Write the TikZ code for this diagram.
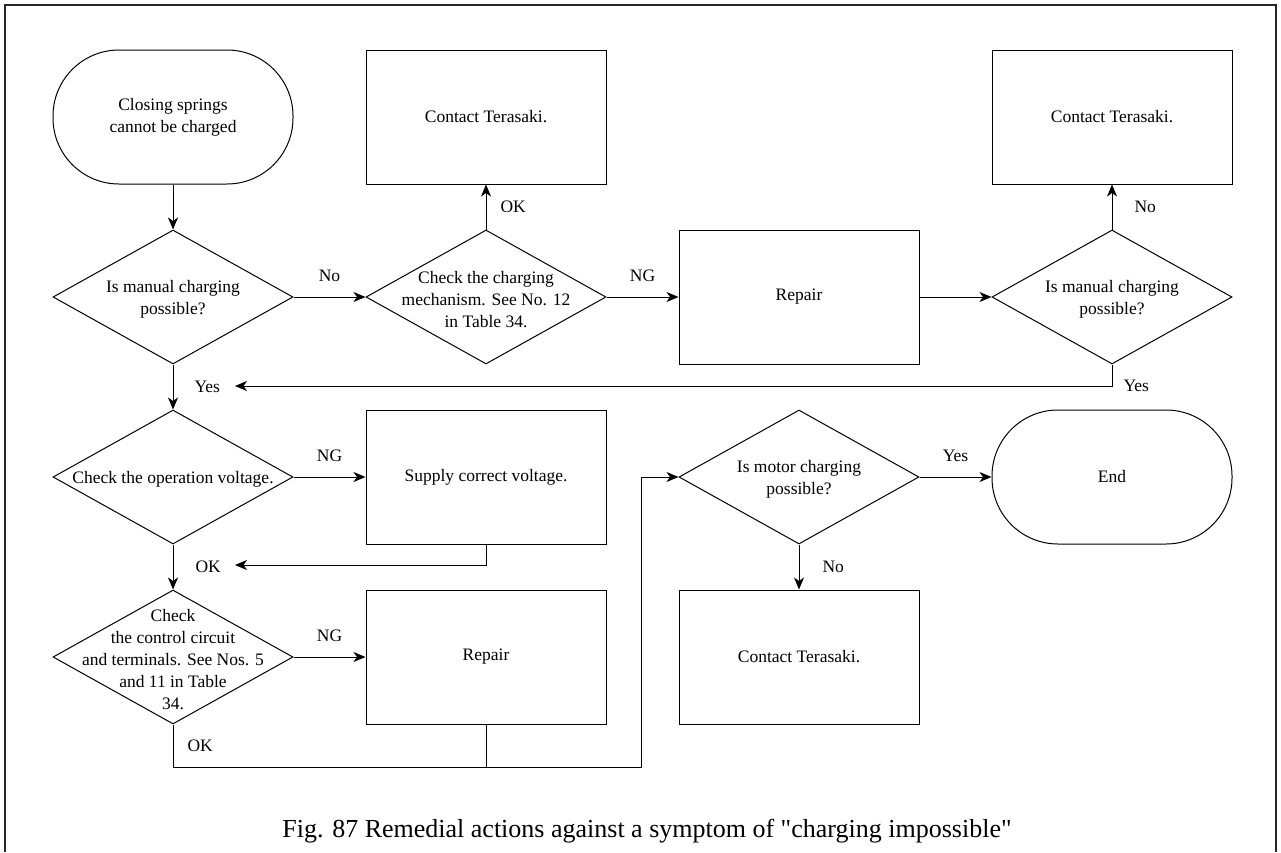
\documentclass[tikz,border=0pt]{standalone}
\usepackage{fontspec}
\setmainfont{Liberation Serif}
\usetikzlibrary{shapes.geometric, arrows.meta, positioning}

\newcommand{\dtext}[1]{\smash{\raisebox{-7pt}{\parbox[c]{230pt}{\centering #1}}}}

\begin{document}
\begin{tikzpicture}[
    x=1pt, y=-1pt,
    node distance=45pt and 72pt,
    every node/.style={font=\fontsize{17.5pt}{22pt}\selectfont},
    box/.style={draw, rectangle, minimum width=240pt, minimum height=134pt, align=center, inner sep=0pt, line width=1pt},
    terminal/.style={box, rounded corners=66pt},
    decision/.style={draw, diamond, shape aspect=1.8, minimum width=240pt, minimum height=134pt, inner sep=0pt, line width=1pt},
    arrow/.style={-{Stealth[length=12pt,width=10pt,inset=3.5pt]}, line width=1pt},
    lbl/.style={inner sep=2pt}
]

\useasboundingbox (0,0) rectangle (1281,852);
\draw [line width=1.5pt, black!85] (5,852) -- (5,5) -- (1276,5) -- (1276,852);

\node (start) [terminal] at (173,117) {Closing springs\\cannot be charged};
\node (q1) [decision, below=of start] {\dtext{Is manual charging\\possible?}};
\node (q2) [decision, right=of q1] {\dtext{Check the charging\\mechanism. See No. 12\\in Table 34.}};
\node (contact1) [box, above=of q2] {Contact Terasaki.};
\node (repair1) [box, right=of q2] {Repair};
\node (q3) [decision, right=of repair1] {\dtext{Is manual charging\\possible?}};
\node (contact2) [box, above=of q3] {Contact Terasaki.};
\node (q4) [decision, below=of q1] {\dtext{Check the operation voltage.}};
\node (supply) [box, right=of q4] {Supply correct voltage.};
\node (q5) [decision, below=of q4] {\dtext{Check\\the control circuit\\and terminals. See Nos. 5\\and 11 in Table\\34.}};
\node (repair2) [box, right=of q5] {Repair};
\node (q6) [decision, right=of supply] {\dtext{Is motor charging\\possible?}};
\node (finish) [terminal, right=of q6] {End};
\node (contact3) [box, below=of q6] {Contact Terasaki.};

\coordinate (yesend) at (235,386);
\coordinate (okend) at (235,565);
\coordinate (bend) at (641.5,767);

\draw [arrow] (start) -- (q1);
\draw [arrow] (q1) -- node[lbl, above=13pt] {No} (q2);
\draw [arrow] (q2) -- node[lbl, right=12pt] {OK} (contact1);
\draw [arrow] (q2) -- node[lbl, above=13pt] {NG} (repair1);
\draw [arrow] (repair1) -- (q3);
\draw [arrow] (q3) -- node[lbl, right=20pt] {No} (contact2);
\draw [arrow] (q3.south) |- node[lbl, pos=0.5, right=9pt] {Yes} (yesend);
\draw [arrow] (q1) -- node[lbl, right=19pt] {Yes} (q4);
\draw [arrow] (q4) -- node[lbl, above=13pt] {NG} (supply);
\draw [arrow] (supply.south) |- (okend);
\draw [arrow] (q4) -- node[lbl, right=20pt] {OK} (q5);
\draw [arrow] (q5) -- node[lbl, above=13pt] {NG} (repair2);
\draw [arrow] (q5.south) |- node[lbl, pos=0.25, right=12pt] {OK} (bend) |- (q6.west);
\draw [line width=1pt] (repair2.south) -- (repair2.south |- bend);
\draw [arrow] (q6) -- node[lbl, above=13pt] {Yes} (finish);
\draw [arrow] (q6) -- node[lbl, right=21pt] {No} (contact3);

\node (caption) [font=\fontsize{26pt}{31pt}\selectfont] at (647,831) {Fig. 87 Remedial actions against a symptom of \textquotedbl charging impossible\textquotedbl};

\end{tikzpicture}
\end{document}
